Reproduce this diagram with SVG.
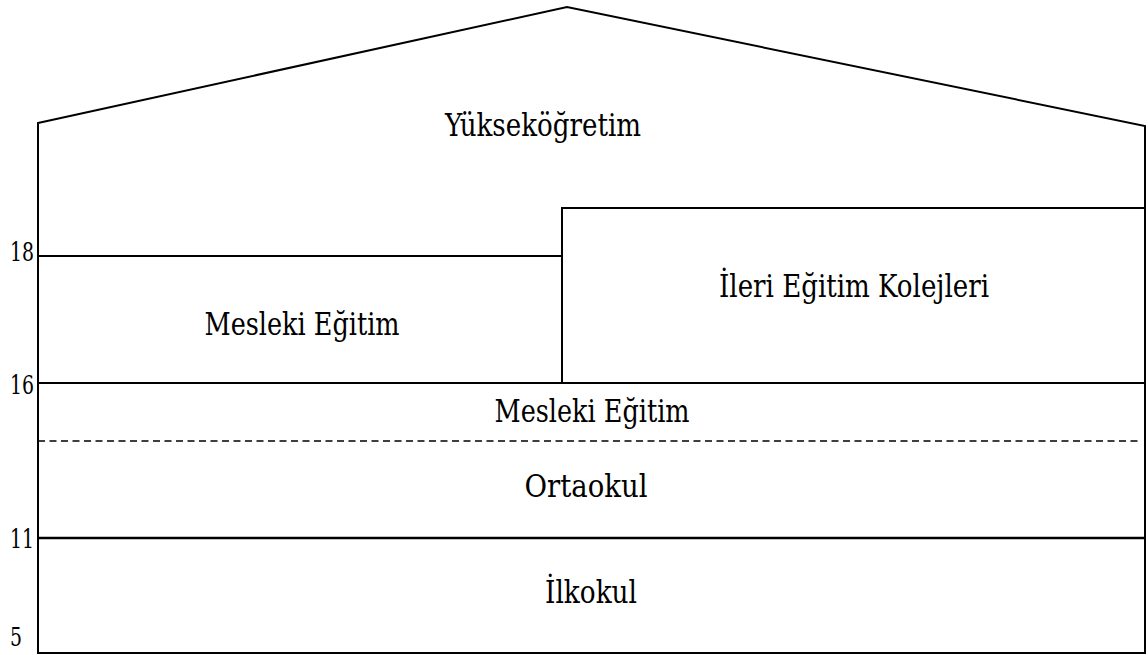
<svg xmlns="http://www.w3.org/2000/svg" width="1148" height="655" viewBox="0 0 1148 655">
  <style>
    .edge { fill: none; stroke: #000; stroke-width: 2; }
    .thick { fill: none; stroke: #000; stroke-width: 2.5; }
    .dash { fill: none; stroke: #000; stroke-width: 1.6; stroke-dasharray: 7 4.5; }
    text { font-family: "DejaVu Serif Condensed", "DejaVu Serif", serif; fill: #000; }
    .lbl { font-size: 32px; text-anchor: middle; }
    .age { font-size: 26px; }
  </style>
  <rect width="1148" height="655" fill="#fff"/>

  <!-- house outline: roof and outer walls -->
  <g id="outline">
    <path class="edge" d="M38,123 L567,7 L1145,126 L1145,653 L38,653 Z"/>
  </g>

  <!-- horizontal band dividers -->
  <g id="dividers">
    <line class="edge" x1="38" y1="256" x2="562" y2="256"/>
    <line class="edge" x1="38" y1="383" x2="1145" y2="383"/>
    <line class="dash" x1="38" y1="441" x2="1141" y2="441"/>
    <line class="thick" x1="38" y1="538" x2="1145" y2="538"/>
  </g>

  <g id="yuksekogretim">
    <text class="lbl" x="543" y="136" textLength="196" lengthAdjust="spacingAndGlyphs">Yükseköğretim</text>
  </g>

  <g id="ileri-egitim">
    <rect class="edge" x="562" y="208" width="583" height="175"/>
    <text class="lbl" x="854" y="297" textLength="270" lengthAdjust="spacingAndGlyphs">İleri Eğitim Kolejleri</text>
  </g>

  <g id="mesleki-egitim-ust">
    <text class="lbl" x="302" y="335" textLength="195" lengthAdjust="spacingAndGlyphs">Mesleki Eğitim</text>
  </g>

  <g id="mesleki-egitim-alt">
    <text class="lbl" x="592" y="422" textLength="195" lengthAdjust="spacingAndGlyphs">Mesleki Eğitim</text>
  </g>

  <g id="ortaokul">
    <text class="lbl" x="586" y="497" textLength="123" lengthAdjust="spacingAndGlyphs">Ortaokul</text>
  </g>

  <g id="ilkokul">
    <text class="lbl" x="591" y="603" textLength="92" lengthAdjust="spacingAndGlyphs">İlkokul</text>
  </g>

  <!-- age markers on the left wall -->
  <g id="ages">
    <text class="age" x="10" y="261" textLength="24" lengthAdjust="spacingAndGlyphs">18</text>
    <text class="age" x="10" y="394" textLength="24" lengthAdjust="spacingAndGlyphs">16</text>
    <text class="age" x="10" y="548" textLength="24" lengthAdjust="spacingAndGlyphs">11</text>
    <text class="age" x="10" y="646" textLength="12" lengthAdjust="spacingAndGlyphs">5</text>
  </g>
</svg>
